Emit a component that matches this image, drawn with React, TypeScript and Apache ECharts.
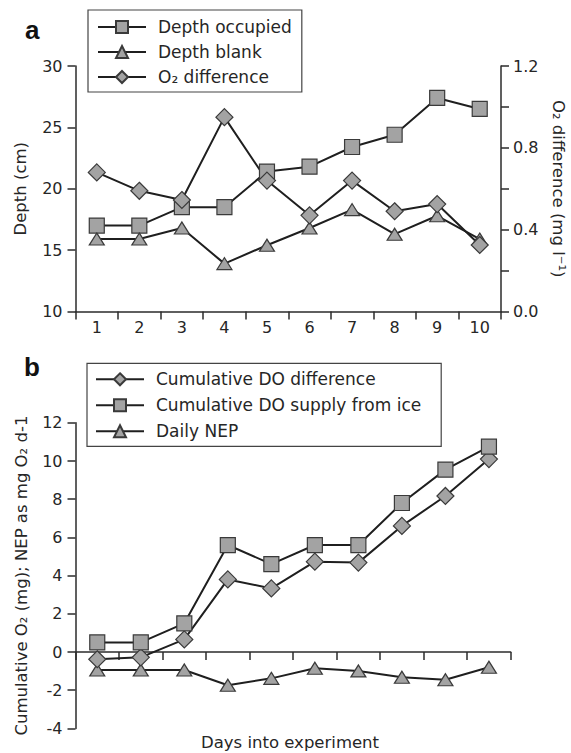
import React, { useEffect, useRef } from "react";
import * as echarts from "echarts";

const days = ["1", "2", "3", "4", "5", "6", "7", "8", "9", "10"];
const depthOccupied = [17, 17, 18.5, 18.5, 21.4, 21.8, 23.4, 24.4, 27.4, 26.5];
const depthBlank = [15.9, 15.9, 16.8, 13.9, 15.4, 16.8, 18.3, 16.3, 17.8, 15.9];
const o2Difference = [0.68, 0.59, 0.545, 0.95, 0.64, 0.47, 0.64, 0.49, 0.525, 0.325];
const cumDODifference = [-0.38, -0.28, 0.66, 3.8, 3.33, 4.73, 4.68, 6.6, 8.17, 10.1];
const cumDOSupply = [0.5, 0.5, 1.5, 5.6, 4.6, 5.6, 5.6, 7.8, 9.55, 10.75];
const dailyNEP = [-0.94, -0.94, -0.94, -1.74, -1.38, -0.85, -0.99, -1.32, -1.45, -0.8];

const FONT = "DejaVu Sans";
const TXT = "#262626";
const AX = "#2b2b2b";
const FILL = "#a3a3a3";
const LINE = "#1f1f1f";

const mk = (name: string, data: number[], symbol: string, size: any, xi: number, yi: number) => ({
  name,
  type: "line",
  data,
  xAxisIndex: xi,
  yAxisIndex: yi,
  symbol,
  symbolSize: size,
  showAllSymbol: true,
  lineStyle: { color: LINE, width: 2 },
  itemStyle: { color: FILL, borderColor: "#3a3a3a", borderWidth: 1.2 },
  emphasis: { disabled: true },
});

export default function App() {
  const ref = useRef<HTMLDivElement>(null);
  useEffect(() => {
    if (!ref.current) return;
    const chart = echarts.init(ref.current, undefined, { renderer: "svg" });
    const axisLine = { show: true, lineStyle: { color: AX, width: 1.5 } };
    const axisTick = { show: true, length: 8, lineStyle: { color: AX, width: 1.5 } };
    const lbl = { color: TXT, fontFamily: FONT, fontSize: 16 };
    const nameStyle = { color: TXT, fontFamily: FONT, fontSize: 16.5 };
    const legendText = { color: TXT, fontFamily: FONT, fontSize: 17, lineHeight: 20, padding: [0, 0, 0, 7] };
    const legendCommon = {
      orient: "vertical",
      itemWidth: 48,
      itemHeight: 15,
      borderColor: "#444",
      borderWidth: 1.2,
      textStyle: legendText,
      selectedMode: false,
      lineStyle: { color: LINE, width: 2 },
    };
    chart.setOption({
      animation: false,
      backgroundColor: "#ffffff",
      grid: [
        { left: 75.5, top: 66, width: 425.5, height: 245.5, containLabel: false, outerBoundsMode: "none" },
        { left: 75.5, top: 422.8, width: 435.2, height: 305.6, containLabel: false, outerBoundsMode: "none" },
      ],
      legend: [
        {
          ...legendCommon,
          data: ["Depth occupied", "Depth blank", "O₂ difference"],
          left: 88,
          top: 10,
          padding: [7, 10, 5, 9],
          itemGap: 5,
        },
        {
          ...legendCommon,
          data: ["Cumulative DO difference", "Cumulative DO supply from ice", "Daily NEP"],
          left: 87,
          top: 363.3,
          padding: [6, 20, 5, 8],
          itemGap: 6,
        },
      ],
      xAxis: [
        {
          type: "category",
          gridIndex: 0,
          data: days,
          boundaryGap: true,
          axisLine,
          axisTick: { ...axisTick, alignWithLabel: false },
          axisLabel: { ...lbl, margin: 8 },
          splitLine: { show: false },
        },
        {
          type: "category",
          gridIndex: 1,
          data: days,
          boundaryGap: true,
          axisLine: { ...axisLine, onZero: true },
          axisTick: { ...axisTick, alignWithLabel: false },
          axisLabel: { show: false },
          splitLine: { show: false },
        },
      ],
      yAxis: [
        {
          type: "value",
          gridIndex: 0,
          min: 10,
          max: 30,
          interval: 5,
          axisLine,
          axisTick,
          axisLabel: { ...lbl, margin: 13 },
          splitLine: { show: false },
          name: "Depth (cm)",
          nameLocation: "middle",
          nameGap: 47,
          nameTextStyle: nameStyle,
        },
        {
          type: "value",
          gridIndex: 0,
          position: "right",
          min: 0,
          max: 1.2,
          interval: 0.2,
          axisLine,
          axisTick,
          axisLabel: {
            ...lbl,
            margin: 12,
            formatter: (v: number) => (Math.round(v * 10) % 4 === 0 ? v.toFixed(1) : ""),
          },
          splitLine: { show: false },
          name: "O₂ difference (mg l⁻¹)",
          nameLocation: "middle",
          nameRotate: -90,
          nameGap: 49,
          nameTextStyle: nameStyle,
        },
        {
          type: "value",
          gridIndex: 1,
          min: -4,
          max: 12,
          interval: 2,
          axisLine,
          axisTick,
          axisLabel: { ...lbl, margin: 13 },
          splitLine: { show: false },
          name: "Cumulative O₂ (mg); NEP as mg O₂ d-1",
          nameLocation: "middle",
          nameGap: 46,
          nameTextStyle: nameStyle,
        },
      ],
      series: [
        mk("Depth occupied", depthOccupied, "rect", 15, 0, 0),
        mk("Depth blank", depthBlank, "triangle", [15, 12], 0, 0),
        mk("O₂ difference", o2Difference, "diamond", [17, 17], 0, 1),
        mk("Daily NEP", dailyNEP, "triangle", [15, 12], 1, 2),
        mk("Cumulative DO difference", cumDODifference, "diamond", [17, 17], 1, 2),
        mk("Cumulative DO supply from ice", cumDOSupply, "rect", 15, 1, 2),
      ],
      graphic: [
        {
          type: "text",
          left: 25,
          top: 17,
          style: { text: "a", font: 'bold 26px "Liberation Sans"', fill: "#111" },
        },
        {
          type: "text",
          left: 24,
          top: 354,
          style: { text: "b", font: 'bold 26px "Liberation Sans"', fill: "#111" },
        },
        {
          type: "text",
          x: 290,
          y: 742,
          style: {
            text: "Days into experiment",
            fontFamily: FONT,
            fontSize: 16.5,
            fill: TXT,
            align: "center",
            verticalAlign: "middle",
          },
        },
      ],
    });
    return () => chart.dispose();
  }, []);
  return (
    <div
      ref={ref}
      style={{ position: "absolute", left: 0, top: 0, width: 571, height: 753, background: "#fff" }}
    />
  );
}
